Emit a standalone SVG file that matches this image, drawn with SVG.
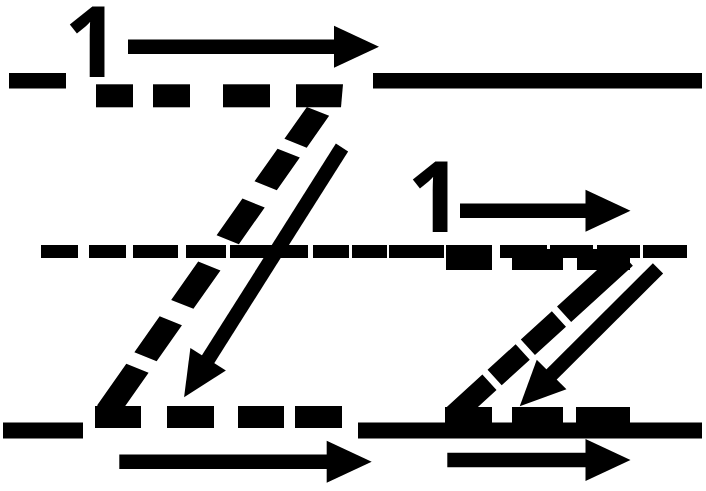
<svg xmlns="http://www.w3.org/2000/svg" width="706" height="491" viewBox="0 0 706 491">
<defs>
<style>
.ink{fill:#000}
.shaft{stroke:#000;stroke-width:14.5;fill:none;marker-end:url(#head)}
.num{font-family:"Open Sans",Roboto,sans-serif;font-weight:bold;font-size:98px;fill:#000}
</style>
<marker id="head" markerUnits="userSpaceOnUse" markerWidth="46" markerHeight="42" refX="1" refY="0" orient="auto" overflow="visible"><path d="M0,-21 L45,0 L0,21 Z" fill="#000"/></marker>
</defs>
<rect width="706" height="491" fill="#fff"/>
<g id="guides" class="ink">
<rect x="9" y="73" width="57" height="15.5"/>
<rect x="373" y="73" width="329" height="15.5"/>
<rect x="41" y="245" width="37" height="13"/>
<rect x="89" y="245" width="37" height="13"/>
<rect x="133" y="245" width="45" height="13"/>
<rect x="186" y="245" width="40" height="13"/>
<rect x="230" y="245" width="78" height="13"/>
<rect x="313" y="245" width="36" height="13"/>
<rect x="352" y="245" width="35" height="13"/>
<rect x="389" y="245" width="55" height="13"/>
<rect x="446" y="245" width="46" height="13"/>
<rect x="500" y="245" width="47" height="13"/>
<rect x="550" y="245" width="43" height="13"/>
<rect x="597" y="245" width="43" height="13"/>
<rect x="643" y="245" width="44" height="13"/>
<rect x="3" y="422.5" width="80" height="16"/>
<rect x="358" y="422.5" width="344" height="16"/>
</g>
<g id="letter-Z" class="ink">
<rect x="96" y="84.3" width="37" height="23"/>
<rect x="153" y="84.3" width="37" height="23"/>
<rect x="223" y="84.3" width="47" height="23"/>
<polygon points="296,84.3 343,84.3 341,107.3 296,107.3"/>
<line x1="0" y1="0" x2="0" y2="385" stroke="#000" stroke-width="24" stroke-dasharray="0 20 39 12 40 21 45 32 47 20 44 14 51" transform="matrix(0.928 0.371 -0.575 0.818 329.5 95)"/>
<rect x="95" y="406" width="46" height="22"/>
<rect x="167" y="406" width="47" height="22"/>
<rect x="238" y="406" width="46" height="22"/>
<rect x="295" y="406" width="47" height="22"/>
</g>
<g id="letter-z" class="ink">
<rect x="446" y="249" width="46" height="21"/>
<rect x="512" y="249" width="51" height="21"/>
<rect x="577" y="249" width="53" height="21"/>
<line x1="452.5" y1="416" x2="625.8" y2="258" stroke="#000" stroke-width="21" stroke-dasharray="50 7 38 7 42 7 90"/>
<rect x="445" y="407" width="47" height="16"/>
<rect x="512" y="407" width="51" height="16"/>
<rect x="576" y="407" width="54" height="16"/>
</g>
<g id="numbers">
<text class="num" x="64" y="77">1</text>
<text class="num" x="407" y="231.7">1</text>
</g>
<g id="connectors">
<line class="shaft" x1="128" y1="46.7" x2="335" y2="46.7"/>
<line class="shaft" x1="460" y1="210.8" x2="586.5" y2="210.8"/>
<line class="shaft" x1="119.3" y1="461.7" x2="327.7" y2="461.7"/>
<line class="shaft" x1="447.3" y1="460" x2="586.5" y2="460"/>
<line class="shaft" x1="342" y1="147.5" x2="207.6" y2="360"/>
<line class="shaft" x1="658" y1="268.3" x2="550.9" y2="375.2"/>
</g>
</svg>
